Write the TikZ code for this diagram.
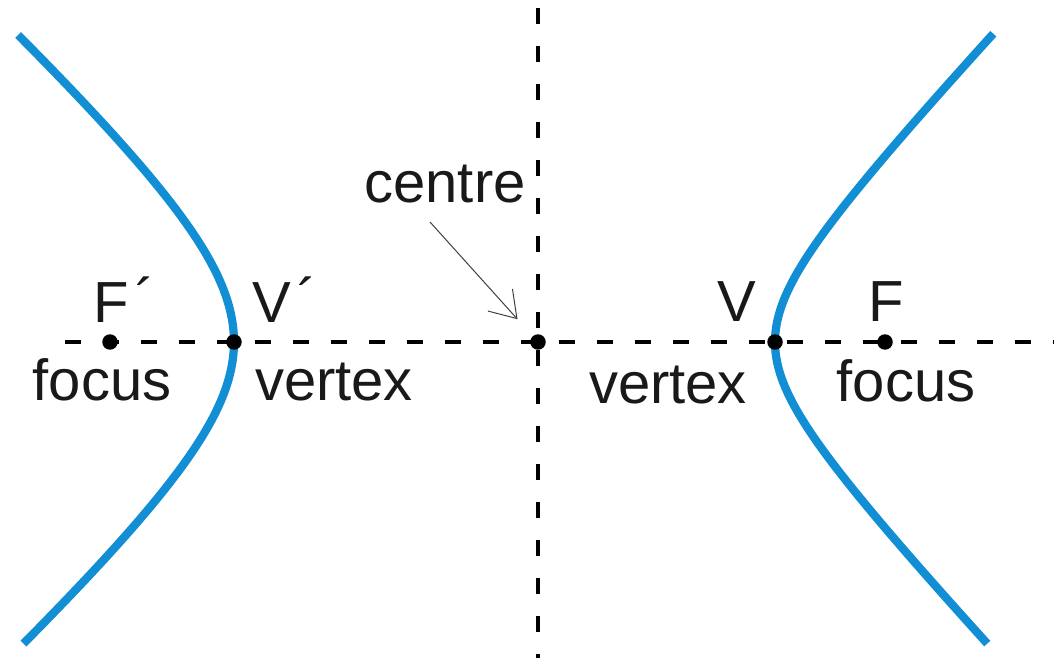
\documentclass[tikz,border=0pt]{standalone}
\usepackage{fontspec}
\setmainfont{Liberation Sans}
\usetikzlibrary{arrows.meta}

\begin{document}
\begin{tikzpicture}[x=0.02cm,y=-0.02cm,
    axis/.style={line width=0.065cm,dash pattern=on 0.32cm off 0.44cm},
    branch/.style={colCurve,line width=0.165cm},
    dot/.style={circle,fill=black,inner sep=0pt,minimum size=0.31cm},
    lbl/.style={anchor=base,inner sep=0pt,text=black!90,font=\fontsize{33}{40}\selectfont},
    pointer/.style={line width=0.02cm,black!75,-{Straight Barb[length=0.5cm,width=0.66cm]}}]
  \definecolor{colCurve}{RGB}{18,142,212}
  \def\prm{\kern0.12em\raisebox{0.05em}{´}}
  \useasboundingbox (0,0) rectangle (1054,658);
  \coordinate (xl) at (65,342);  \coordinate (xr) at (1054,342);
  \coordinate (yt) at (538,8);   \coordinate (yb) at (538,658);
  \draw[axis] (xl) -- (xr);
  \draw[axis] (yt) -- (yb);
  \draw[branch] plot[domain=-1.945:1.925,samples=90,variable=\t]
    ({690+85*cosh(\t)},{342+90*sinh(\t)});
  \draw[branch] plot[domain=-1.54:1.525,samples=90,variable=\t]
    ({384-150*cosh(\t)},{342+138*sinh(\t)});
  \node[dot] (Fl) at (110,342) {};
  \node[dot] (Vl) at (234,342) {};
  \node[dot] (O)  at (538,342) {};
  \node[dot] (Vr) at (775,342) {};
  \node[dot] (Fr) at (885,342) {};
  \node[lbl,anchor=base west] (Fllbl) at (93,322) {F\prm};
  \node[lbl,anchor=base west] (Vllbl) at (252,322) {V\prm};
  \node[lbl] (Flfocus)  at (102,400) {focus};
  \node[lbl] (Vlvertex) at (334,400) {vertex};
  \node[lbl] (centrelbl) at (445,203) {centre};
  \node[lbl] (Vrlbl) at (737,321) {V};
  \node[lbl] (Frlbl) at (886,321) {F};
  \node[lbl] (Vrvertex) at (668,403) {vertex};
  \node[lbl] (Frfocus)  at (906,401) {focus};
  \coordinate (tail) at (430,222);
  \draw[pointer,shorten >=0.45cm] (tail) -- (O);
\end{tikzpicture}
\end{document}
